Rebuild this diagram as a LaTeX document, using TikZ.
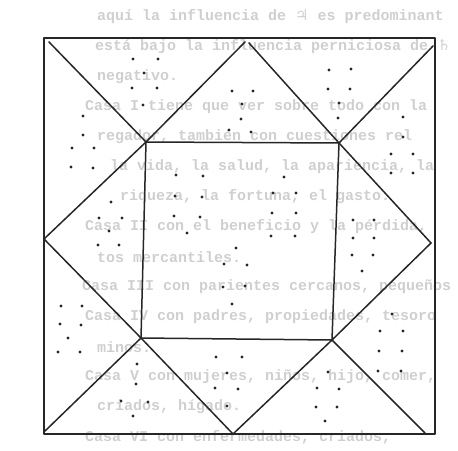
\documentclass[tikz,border=0pt]{standalone}
\usepackage{fontspec}
\newfontfamily\pagefont{Liberation Mono}
\newfontfamily\planetfont{DejaVu Sans}

\begin{document}
\begin{tikzpicture}[x=1pt, y=-1pt,
  chartline/.style={black!85, line width=1.5pt, line join=round, line cap=round},
  pagetext/.style={anchor=west, inner sep=0pt, text=black!19,
    font=\pagefont\bfseries\fontsize{15}{18}\selectfont}]

\useasboundingbox (0,0) rectangle (458,450);

%-- faint text of the printed page behind the chart
\foreach \ty/\tx/\txt [count=\i] in {
   17/97/{aquí la influencia de {\planetfont ♃} es predominant},
   47/95/{está bajo la influencia perniciosa de {\planetfont ♄}},
   77/97/{negativo.},
  107/85/{Casa I tiene que ver sobre todo con la},
  137/97/{regador, también con cuestiones rel},
  167/110/{la vida, la salud, la apariencia, la},
  197/120/{riqueza, la fortuna, el gasto.},
  227/85/{Casa II con el beneficio y la pérdida,},
  257/97/{tos mercantiles.},
  287/82/{Casa III con parientes cercanos, pequeños},
  317/85/{Casa IV con padres, propiedades, tesoro},
  347/97/{minos.},
  377/85/{Casa V con mujeres, niños, hijo, comer,},
  407/97/{criados, hígado.},
  437/85/{Casa VI con enfermedades, criados,}}
  \node[pagetext] (txt\i) at (\tx,\ty) {\txt};

%-- outer frame
\coordinate (oTL) at ( 44, 38);
\coordinate (oBR) at (435,434);
%-- ends of the corner diagonals
\coordinate (dTL) at ( 49, 42);
\coordinate (dTR) at (433, 46);
\coordinate (dBR) at (425,433);
\coordinate (dBL) at ( 45,431);
%-- middles of the sides
\coordinate (mTa) at (245, 42);
\coordinate (mTb) at (249, 43);
\coordinate (mR)  at (431,243);
\coordinate (mB)  at (233,434);
\coordinate (mL)  at ( 44,239);
%-- inner square
\coordinate (iTL) at (146,142);
\coordinate (iTR) at (339,143);
\coordinate (iBR) at (332,340);
\coordinate (iBL) at (141,338);

\draw[chartline] (oTL) rectangle (oBR);
\draw[chartline] (iTL)--(iTR)--(iBR)--(iBL)--cycle;

\foreach \s/\e in {dTL/iTL,mTa/iTL,mTb/iTR,dTR/iTR,mR/iTR,mR/iBR,
                   dBR/iBR,mB/iBR,mB/iBL,dBL/iBL,mL/iBL,mL/iTL}
  \draw[chartline] (\s)--(\e);

%-- dots in the houses
\foreach \p in {
  (133,59),(158,59),(144,73),(132,88),(157,88),(143,105),
  (232,91),(253,91),(242,104),(241,119),(229,130),(251,132),
  (329,70),(351,69),(328,89),(350,89),(339,103),(338,118),
  (403,117),(403,137),(391,154),(413,154),(391,173),(413,173),
  (83,116),(83,135),(72,148),(94,148),(71,167),(93,168),
  (111,202),(99,218),(122,218),(109,231),(98,245),(119,245),
  (176,175),(203,176),(175,196),(202,197),(174,216),(200,217),(187,233),
  (284,177),(273,193),(296,193),(272,213),(296,213),(271,236),(295,236),
  (236,248),(224,264),(247,265),(223,287),(245,286),(232,304),
  (353,220),(374,220),(353,238),(374,238),(352,255),(373,255),(362,271),
  (61,306),(82,306),(60,324),(81,325),(68,338),(58,352),(80,352),
  (137,364),(136,384),(121,401),(148,402),(133,416),
  (216,357),(242,357),(227,373),(215,388),(238,389),(227,406),
  (328,372),(317,388),(339,389),(316,407),(337,407),(325,421),
  (392,314),(380,331),(403,331),(379,351),(402,351),(378,371),(401,371)}
  \fill[black!85] \p circle (1.7);

\end{tikzpicture}
\end{document}
